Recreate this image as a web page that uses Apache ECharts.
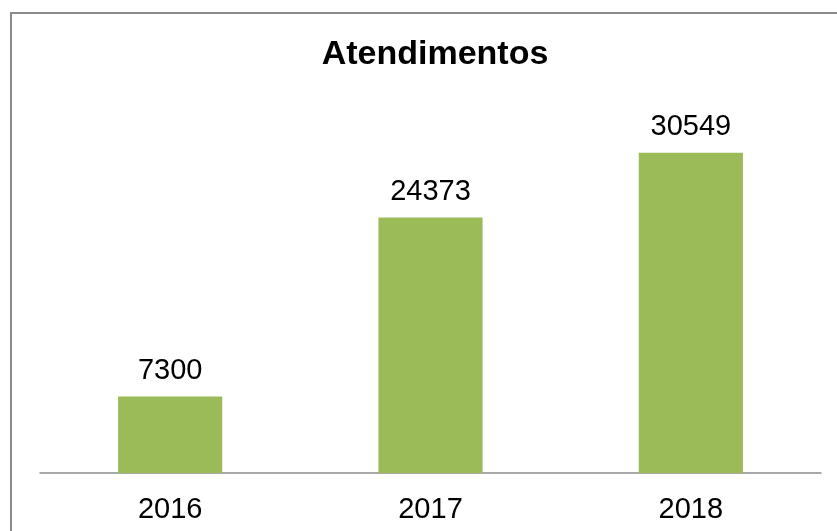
<!DOCTYPE html>
<html>
<head>
<meta charset="utf-8">
<script src="https://cdn.jsdelivr.net/npm/echarts@6/dist/echarts.min.js"></script>
<style>
  html, body { margin: 0; padding: 0; background: #fff; }
  #chart { width: 837px; height: 531px; }
</style>
</head>
<body>
<div id="chart"></div>
<script>
// data
var years = ['2016', '2017', '2018'];
var atendimentos = [7300, 24373, 30549];

var chart = echarts.init(document.getElementById('chart'));

chart.setOption({
    animation: false,
    textStyle: { fontFamily: 'Liberation Sans, Arial, sans-serif' },
    // outer chart-area frame (runs off the right and bottom of the picture)
    graphic: [{
        type: 'rect',
        shape: { x: 11, y: 13, width: 900, height: 600 },
        style: { fill: 'none', stroke: '#8a8a8a', lineWidth: 2 },
        silent: true
    }],
    title: {
        text: 'Atendimentos',
        left: 430,
        textAlign: 'center',
        top: 33,
        textStyle: {
            fontSize: 34,
            fontWeight: 'bold',
            color: '#000',
            fontFamily: 'Liberation Sans, Arial, sans-serif'
        }
    },
    grid: { left: 40, right: 16, top: 106, bottom: 58 },
    xAxis: {
        type: 'category',
        data: years,
        axisLine: { lineStyle: { color: '#8c8c8c', width: 1.5 } },
        axisTick: { show: false },
        axisLabel: { color: '#000', fontSize: 29, margin: 22 }
    },
    yAxis: {
        type: 'value',
        min: 0,
        max: 35000,
        show: false,
        splitLine: { show: false }
    },
    series: [{
        type: 'bar',
        data: atendimentos,
        barWidth: '40%',
        itemStyle: { color: '#9bbb59' },
        label: {
            show: true,
            position: 'top',
            distance: 11,
            color: '#000',
            fontSize: 29
        }
    }]
});
</script>
</body>
</html>
